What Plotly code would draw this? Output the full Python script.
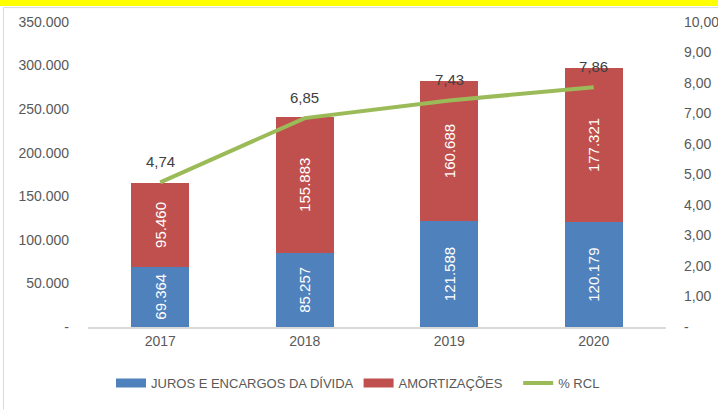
import plotly.graph_objects as go

years = ["2017", "2018", "2019", "2020"]
juros = [69364, 85257, 121588, 120179]
amort = [95460, 155883, 160688, 177321]
rcl = [4.74, 6.85, 7.43, 7.86]

left_ticks = [0, 50000, 100000, 150000, 200000, 250000, 300000, 350000]
left_text = ["-", "50.000", "100.000", "150.000", "200.000", "250.000", "300.000", "350.000"]
right_ticks = [0, 1, 2, 3, 4, 5, 6, 7, 8, 9, 10]
right_text = ["-", "1,00", "2,00", "3,00", "4,00", "5,00", "6,00", "7,00", "8,00", "9,00", "10,00"]

def fmt_int(v):
    return f"{v:,}".replace(",", ".")

def fmt_dec(v):
    return f"{v:.2f}".replace(".", ",")

FONT = "Liberation Sans, Arial, sans-serif"
GREY = "#595959"
BLUE = "#4F81BD"
RED = "#C0504D"
GREEN = "#9BBB59"
NB = "\u00a0"

fig = go.Figure()
fig.add_trace(go.Bar(
    x=years, y=juros, name="JUROS E ENCARGOS DA DÍVIDA", showlegend=False,
    marker=dict(color=BLUE, line=dict(width=0)),
    text=[fmt_int(v) for v in juros], textposition="inside",
    insidetextanchor="middle", textangle=-90,
    textfont=dict(color="white", size=15, family=FONT),
    hoverinfo="skip",
))
fig.add_trace(go.Bar(
    x=years, y=amort, name="AMORTIZAÇÕES", showlegend=False,
    marker=dict(color=RED, line=dict(width=0)),
    text=[fmt_int(v) for v in amort], textposition="inside",
    insidetextanchor="middle", textangle=-90,
    textfont=dict(color="white", size=15, family=FONT),
    hoverinfo="skip",
))
fig.add_trace(go.Scatter(
    x=years, y=rcl, name="% RCL", yaxis="y2", showlegend=False,
    mode="lines", line=dict(color=GREEN, width=4),
    hoverinfo="skip",
))
# legend entries (wide swatches like the original)
for nm, col, w in [("JUROS E ENCARGOS DA DÍVIDA", BLUE, 9),
                   ("AMORTIZAÇÕES" + NB * 3, RED, 9),
                   ("% RCL", GREEN, 4)]:
    fig.add_trace(go.Scatter(x=[years[0]], y=[None], mode="lines", name=nm,
                             line=dict(color=col, width=w), hoverinfo="skip"))

annotations = [
    dict(x=i, y=v, xref="x", yref="y2", text=fmt_dec(v), showarrow=False,
         yshift=21, font=dict(color="#404040", size=15, family=FONT))
    for i, v in enumerate(rcl)
]

H = 307.0
W = 578.0
fig.update_layout(
    width=718, height=410,
    margin=dict(l=88, r=52, t=22, b=81, pad=0),
    paper_bgcolor="white", plot_bgcolor="white",
    barmode="stack", bargap=0.6,
    font=dict(family=FONT, size=14, color=GREY),
    showlegend=True,
    legend=dict(orientation="h", x=(111 - 88) / W, xanchor="left", y=-0.135, yanchor="top",
                font=dict(size=13, color=GREY), itemwidth=30, traceorder="normal"),
    xaxis=dict(type="category", categoryarray=years, categoryorder="array",
               range=[-0.5, len(years) - 0.5],
               showgrid=False, showline=True, linecolor="#D9D9D9", linewidth=2,
               ticks="", tickfont=dict(size=14, color=GREY), fixedrange=True,
               automargin=False),
    yaxis=dict(range=[0, 350000], tickvals=left_ticks, ticktext=left_text,
               showgrid=False, zeroline=False, showline=False, ticks="",
               ticklabelstandoff=18, tickfont=dict(size=14, color=GREY),
               automargin=False),
    yaxis2=dict(range=[0, 10], tickvals=right_ticks, ticktext=right_text,
                overlaying="y", side="right", showgrid=False, zeroline=False,
                showline=False, ticks="", ticklabelstandoff=17,
                tickfont=dict(size=14, color=GREY), automargin=False),
    annotations=annotations,
    shapes=[
        dict(type="rect", xref="paper", yref="paper",
             x0=(0 - 88) / W, x1=(718 - 88) / W,
             y0=1 + (22 - 6) / H, y1=1 + 24 / H,
             fillcolor="#FFFF00", line=dict(width=0), layer="above"),
        dict(type="line", xref="paper", yref="paper",
             x0=(3.5 - 88) / W, x1=(3.5 - 88) / W,
             y0=1 + (22 - 7.5) / H, y1=(329 - 412) / H,
             line=dict(color="#D9D9D9", width=1)),
        dict(type="line", xref="paper", yref="paper",
             x0=(3.5 - 88) / W, x1=(720 - 88) / W,
             y0=1 + (22 - 7.5) / H, y1=1 + (22 - 7.5) / H,
             line=dict(color="#D9D9D9", width=1)),
    ],
)

fig.write_html("out.html", config={"displayModeBar": False},
               post_script="document.body.style.margin='0';document.body.style.overflow='hidden';")
